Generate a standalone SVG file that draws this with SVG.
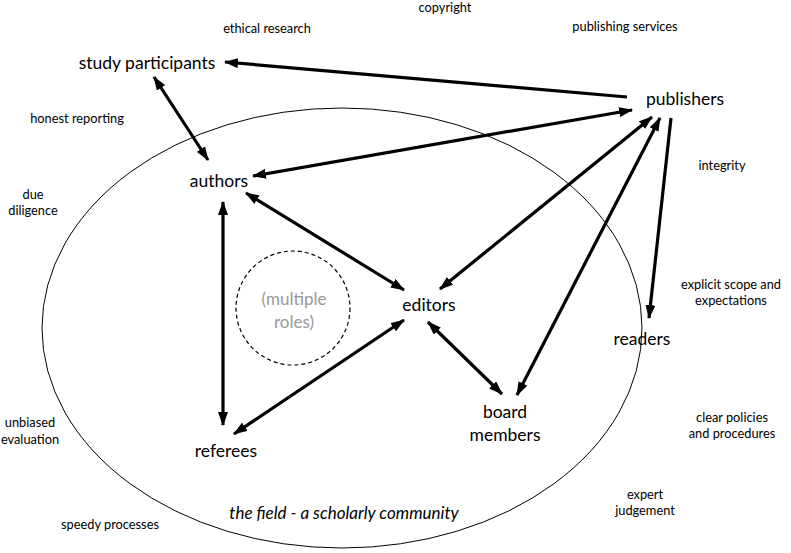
<svg xmlns="http://www.w3.org/2000/svg" width="791" height="553" viewBox="0 0 791 553">
<defs>
<style>
.node{font-family:Lato,"Open Sans",sans-serif;font-size:17.5px;fill:#000;text-anchor:middle}
.lbl{font-family:Lato,"Open Sans",sans-serif;font-size:12.8px;fill:#000;text-anchor:middle}
.gray{font-family:Lato,"Open Sans",sans-serif;font-size:17px;fill:#999;text-anchor:middle}
.ital{font-family:Lato,"Open Sans",sans-serif;font-size:17px;font-style:italic;fill:#000;text-anchor:middle}
.arr{stroke:#000;stroke-width:3.2;fill:none;marker-end:url(#ah)}
.arr2{stroke:#000;stroke-width:3.2;fill:none;marker-end:url(#ah);marker-start:url(#ahs)}
</style>
<marker id="ah" viewBox="0 0 14 10" refX="13" refY="5" markerWidth="14" markerHeight="10" markerUnits="userSpaceOnUse" orient="auto">
<path d="M0,0 L14,5 L0,10 Z" fill="#000"/>
</marker>
<marker id="ahs" viewBox="0 0 14 10" refX="1" refY="5" markerWidth="14" markerHeight="10" markerUnits="userSpaceOnUse" orient="auto">
<path d="M14,0 L0,5 L14,10 Z" fill="#000"/>
</marker>
</defs>
<rect width="791" height="553" fill="#fff"/>
<g id="field">
<ellipse cx="342" cy="328" rx="300" ry="220" fill="none" stroke="#000" stroke-width="1"/>
<text class="ital" x="344" y="519">the field - a scholarly community</text>
</g>
<g id="multiple-roles">
<circle cx="293" cy="308" r="57" fill="none" stroke="#000" stroke-width="1.2" stroke-dasharray="4,3"/>
<text class="gray" x="294" y="305">(multiple</text>
<text class="gray" x="294" y="328">roles)</text>
</g>
<g id="connectors">
<line class="arr" x1="627" y1="97" x2="225" y2="62"/>
<line class="arr2" x1="154" y1="77" x2="208" y2="160"/>
<line class="arr2" x1="253" y1="176" x2="632" y2="110"/>
<line class="arr2" x1="246" y1="193" x2="404" y2="290"/>
<line class="arr2" x1="223" y1="202" x2="223" y2="425"/>
<line class="arr2" x1="234" y1="434" x2="404" y2="320"/>
<line class="arr2" x1="440" y1="289" x2="652" y2="117"/>
<line class="arr2" x1="517" y1="395" x2="660" y2="118"/>
<line class="arr" x1="671" y1="118" x2="649" y2="318"/>
<line class="arr2" x1="428" y1="322" x2="502" y2="394"/>
</g>
<g id="study-participants"><text class="node" x="147" y="69">study participants</text></g>
<g id="publishers"><text class="node" x="685" y="105">publishers</text></g>
<g id="authors"><text class="node" x="219" y="187">authors</text></g>
<g id="editors"><text class="node" x="429" y="311">editors</text></g>
<g id="readers"><text class="node" x="642" y="345">readers</text></g>
<g id="board-members"><text class="node" x="505" y="418">board</text><text class="node" x="505" y="441">members</text></g>
<g id="referees"><text class="node" x="226" y="457">referees</text></g>
<g id="labels">
<text class="lbl" x="445" y="12">copyright</text>
<text class="lbl" x="267" y="33">ethical research</text>
<text class="lbl" x="625" y="31">publishing services</text>
<text class="lbl" x="77" y="123">honest reporting</text>
<text class="lbl" x="722" y="170">integrity</text>
<text class="lbl" x="33" y="199">due</text>
<text class="lbl" x="33" y="215">diligence</text>
<text class="lbl" x="731" y="289">explicit scope and</text>
<text class="lbl" x="731" y="305">expectations</text>
<text class="lbl" x="30" y="427">unbiased</text>
<text class="lbl" x="30" y="444">evaluation</text>
<text class="lbl" x="732" y="422">clear policies</text>
<text class="lbl" x="732" y="438">and procedures</text>
<text class="lbl" x="645" y="499">expert</text>
<text class="lbl" x="645" y="515">judgement</text>
<text class="lbl" x="110" y="529">speedy processes</text>
</g>
</svg>
